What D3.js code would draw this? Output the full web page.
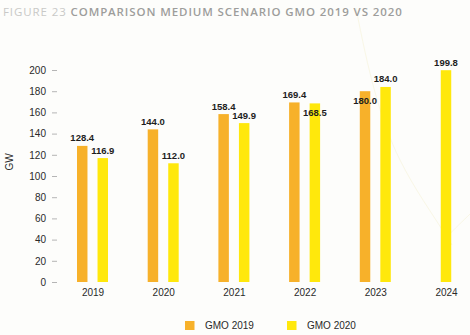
<!DOCTYPE html>
<html lang="en">

<head>
    <meta charset="UTF-8">
    <title>Comparison medium scenario GMO 2019 vs 2020</title>
    <script src="https://d3js.org/d3.v7.min.js"></script>
    <style>
        body {
            margin: 0;
            background: #fdfdfb;
        }

        .tick-label {
            font-family: "Liberation Sans", Arial, sans-serif;
            font-size: 10px;
            fill: #2a2a2a;
        }

        .value-label {
            font-family: "Liberation Sans", Arial, sans-serif;
            font-size: 9.5px;
            font-weight: bold;
            fill: #1e1e1e;
            text-anchor: middle;
        }

        .title {
            font-family: "Open Sans", sans-serif;
            font-size: 11.5px;
            letter-spacing: 0.9px;
        }
    </style>
</head>

<body>
    <script>
        // Installed capacity (GW) per year for both medium scenarios
        const years = ["2019", "2020", "2021", "2022", "2023", "2024"];
        const gmo2019 = [128.4, 144.0, 158.4, 169.4, 180.0, null];
        const gmo2020 = [116.9, 112.0, 149.9, 168.5, 184.0, 199.8];
        const seriesNames = ["GMO 2019", "GMO 2020"];
        const yTicks = [0, 20, 40, 60, 80, 100, 120, 140, 160, 180, 200];

        const colors = { "GMO 2019": "#f7b12a", "GMO 2020": "#ffe80c" };
        // labels that sit inside the bar top because they would collide
        const loweredLabels = ["2022|GMO 2020", "2023|GMO 2019"];

        const width = 470, height = 335;

        const svg = d3.select("body").append("svg")
            .attr("width", width)
            .attr("height", height);

        // faint decorative curve in the background
        svg.append("path")
            .attr("d", "M356,8 C368,70 380,120 400,160 C415,190 430,210 452,245")
            .attr("fill", "none")
            .attr("stroke", "#f9f7e6")
            .attr("stroke-width", 1);
        svg.append("path")
            .attr("d", "M446,238 C455,228 462,222 470,214")
            .attr("fill", "none")
            .attr("stroke", "#f9f7e6")
            .attr("stroke-width", 1);

        // title
        const title = svg.append("text")
            .attr("class", "title")
            .attr("x", 3)
            .attr("y", 16);
        title.append("tspan").attr("fill", "#c9c9c7").text("FIGURE 23 ");
        title.append("tspan").attr("fill", "#9d9d9b").attr("font-weight", 600)
            .text("COMPARISON MEDIUM SCENARIO GMO 2019 VS 2020");

        const x = d3.scalePoint()
            .domain(years)
            .range([92.5, 446]);

        const xInner = d3.scaleBand()
            .domain(seriesNames)
            .range([-15.5, 15.5])
            .paddingInner(0.49);

        const y = d3.scaleLinear()
            .domain([0, 200])
            .range([282, 70]);

        // y axis: labels and short dashes, no domain line
        const yAxis = svg.append("g")
            .attr("transform", "translate(57,0)")
            .call(d3.axisLeft(y).tickValues(yTicks).tickSize(5).tickPadding(6));
        yAxis.select(".domain").remove();
        yAxis.selectAll(".tick line").attr("stroke", "#b5b5b5");
        yAxis.selectAll(".tick text").attr("class", "tick-label").attr("fill", null);

        // x axis labels only
        const xAxis = svg.append("g")
            .attr("transform", "translate(0,287)")
            .call(d3.axisBottom(x).tickSize(0).tickPadding(0));
        xAxis.select(".domain").remove();
        xAxis.selectAll(".tick text").attr("class", "tick-label").attr("fill", null)
            .attr("dy", "0.71em").attr("y", 2);

        svg.append("text")
            .attr("class", "tick-label")
            .attr("transform", "translate(13,162) rotate(-90)")
            .attr("text-anchor", "middle")
            .attr("font-size", "10.5px")
            .text("GW");

        const rows = [];
        years.forEach((yr, i) => {
            const vals = [gmo2019[i], gmo2020[i]];
            const present = seriesNames.filter((s, j) => vals[j] !== null);
            seriesNames.forEach((s, j) => {
                if (vals[j] === null) return;
                const single = present.length === 1;
                const bx = single
                    ? x(yr) - xInner.bandwidth() / 2
                    : x(yr) + xInner(s);
                rows.push({ year: yr, series: s, value: vals[j], x: bx });
            });
        });

        svg.selectAll(".bar")
            .data(rows)
            .enter().append("rect")
            .attr("class", "bar")
            .attr("x", d => d.x)
            .attr("width", xInner.bandwidth())
            .attr("y", d => y(d.value))
            .attr("height", d => y(0) - y(d.value))
            .attr("fill", d => colors[d.series]);

        svg.selectAll(".value-label")
            .data(rows)
            .enter().append("text")
            .attr("class", "value-label")
            .attr("x", d => d.x + xInner.bandwidth() / 2)
            .attr("y", d => loweredLabels.includes(d.year + "|" + d.series)
                ? y(d.value) + 12.5
                : y(d.value) - 4.5)
            .text(d => d.value.toFixed(1));

        // legend
        const legend = svg.append("g")
            .selectAll("g")
            .data(seriesNames)
            .enter().append("g")
            .attr("transform", (d, i) => "translate(" + (185 + i * 102) + ",321)");
        legend.append("rect")
            .attr("width", 9.5)
            .attr("height", 9)
            .attr("fill", d => colors[d]);
        legend.append("text")
            .attr("class", "tick-label")
            .attr("x", 20)
            .attr("y", 8.3)
            .text(d => d);
    </script>
</body>

</html>
